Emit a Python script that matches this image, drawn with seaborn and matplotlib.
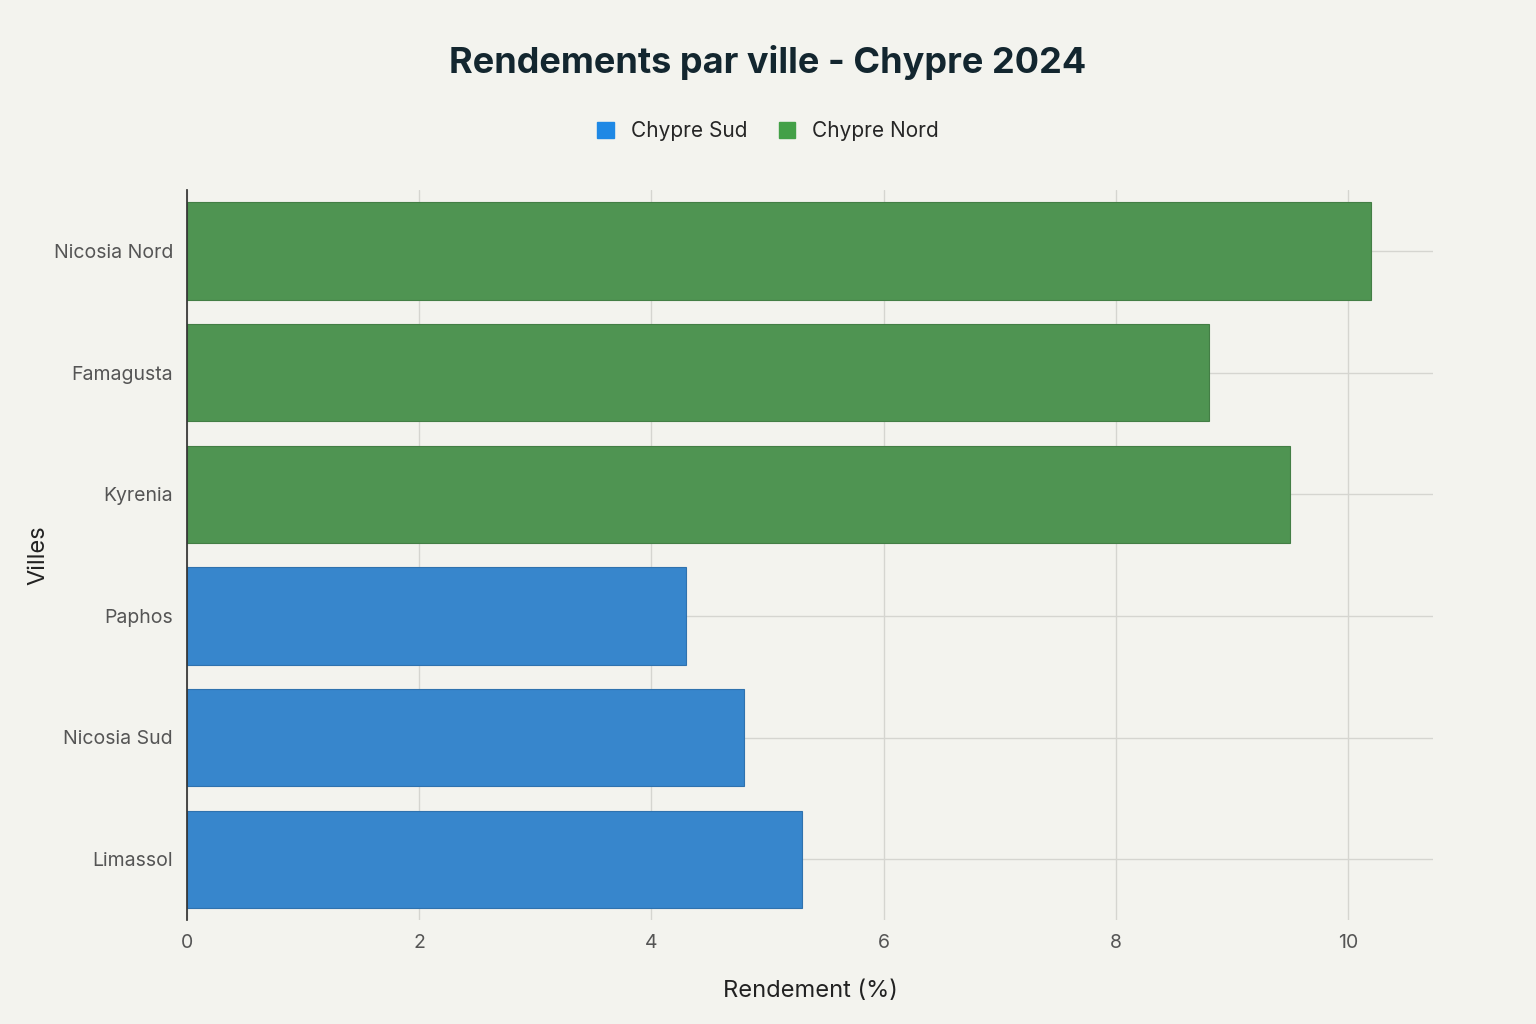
import matplotlib
matplotlib.use("Agg")
import matplotlib.pyplot as plt
import seaborn as sns
import pandas as pd
from matplotlib.patches import Patch

cities = ["Nicosia Nord", "Famagusta", "Kyrenia", "Paphos", "Nicosia Sud", "Limassol"]
yields = [10.2, 8.8, 9.5, 4.3, 4.8, 5.3]
regions = ["Chypre Nord", "Chypre Nord", "Chypre Nord", "Chypre Sud", "Chypre Sud", "Chypre Sud"]
xticks = [0, 2, 4, 6, 8, 10]

df = pd.DataFrame({"Ville": cities, "Rendement": yields, "Region": regions})
palette = {"Chypre Sud": "#1E88E5", "Chypre Nord": "#43A047"}
bg = "#F3F3EE"

sns.set_theme(style="white")
plt.rcParams["font.family"] = ["Inter", "DejaVu Sans"]

fig = plt.figure(figsize=(15.36, 10.24), dpi=100, facecolor=bg)
ax = fig.add_axes([187/1536, 1-920/1024, (1433-187)/1536, (920-190)/1024])
ax.set_facecolor(bg)
sns.barplot(data=df, y="Ville", x="Rendement", hue="Region", palette=palette,
            order=cities, dodge=False, width=0.8, ax=ax, legend=False,
            edgecolor=None, linewidth=0.8)
for p, r in zip(ax.patches, regions):
    pass
for p in ax.patches:
    c = p.get_facecolor()
    p.set_edgecolor((c[0]*0.85, c[1]*0.85, c[2]*0.85, 1))
ax.set_xlim(0, 10.73)
ax.set_xticks(xticks)
ax.grid(True, color="#D5D5D0", linewidth=1)
ax.set_axisbelow(True)
for s in ["top", "right", "bottom"]:
    ax.spines[s].set_visible(False)
ax.spines["left"].set_color("#333333")
ax.tick_params(axis="both", labelsize=14, colors="#555555", length=0, pad=10)
ax.set_xlabel("Rendement (%)", fontsize=17, color="#222222", labelpad=20)
ax.set_ylabel("Villes", fontsize=17, color="#222222", labelpad=10)
ax.yaxis.set_label_coords(-187/1536 + 17/1536, 0.5)

fig.text(0.5, 1-62/1024, "Rendements par ville - Chypre 2024", ha="center", va="center",
         fontsize=26, fontweight="bold", color="#13262F")
handles = [Patch(color=palette["Chypre Sud"], label="Chypre Sud"),
           Patch(color=palette["Chypre Nord"], label="Chypre Nord")]
fig.legend(handles=handles, loc="center", bbox_to_anchor=(0.5, 1-131/1024), ncol=2,
           frameon=False, fontsize=15, handlelength=0.8, handleheight=0.8, columnspacing=1.5)
fig.savefig("out.png", dpi=100, facecolor=bg)
